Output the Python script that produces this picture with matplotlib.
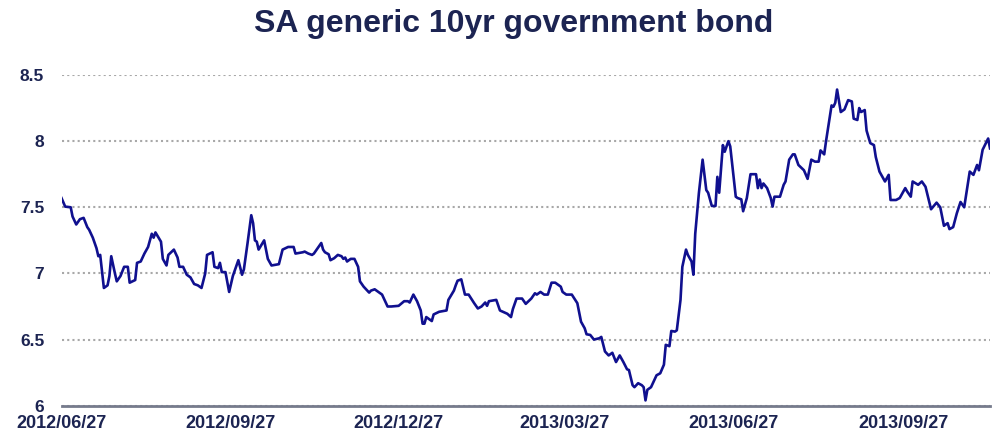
import matplotlib
matplotlib.use("Agg")
import matplotlib.pyplot as plt
import matplotlib.dates as mdates
import pandas as pd

plt.rcParams['font.family'] = ['Liberation Sans', 'DejaVu Sans']

title = "SA generic 10yr government bond"

dates = [
    "2012-06-27", "2012-06-29", "2012-07-02", "2012-07-03", "2012-07-05", "2012-07-07",
    "2012-07-09", "2012-07-11", "2012-07-12", "2012-07-14", "2012-07-16", "2012-07-17",
    "2012-07-18", "2012-07-20", "2012-07-22", "2012-07-23", "2012-07-24", "2012-07-26",
    "2012-07-27", "2012-07-29", "2012-07-31", "2012-08-02", "2012-08-03", "2012-08-06",
    "2012-08-07", "2012-08-09", "2012-08-11", "2012-08-13", "2012-08-15", "2012-08-16",
    "2012-08-17", "2012-08-20", "2012-08-21", "2012-08-23", "2012-08-24", "2012-08-27",
    "2012-08-29", "2012-08-30", "2012-09-01", "2012-09-03", "2012-09-05", "2012-09-07",
    "2012-09-09", "2012-09-11", "2012-09-13", "2012-09-14", "2012-09-17", "2012-09-18",
    "2012-09-20", "2012-09-21", "2012-09-22", "2012-09-24", "2012-09-26", "2012-09-28",
    "2012-10-01", "2012-10-03", "2012-10-04", "2012-10-06", "2012-10-08", "2012-10-09",
    "2012-10-10", "2012-10-11", "2012-10-12", "2012-10-15", "2012-10-17", "2012-10-19",
    "2012-10-23", "2012-10-25", "2012-10-28", "2012-10-31", "2012-11-01", "2012-11-05",
    "2012-11-06", "2012-11-08", "2012-11-10", "2012-11-11", "2012-11-13", "2012-11-15",
    "2012-11-16", "2012-11-17", "2012-11-19", "2012-11-20", "2012-11-22", "2012-11-24",
    "2012-11-26", "2012-11-27", "2012-11-28", "2012-11-29", "2012-12-01", "2012-12-03",
    "2012-12-05", "2012-12-06", "2012-12-08", "2012-12-11", "2012-12-12", "2012-12-14",
    "2012-12-16", "2012-12-18", "2012-12-21", "2012-12-23", "2012-12-27", "2012-12-30",
    "2013-01-01", "2013-01-02", "2013-01-04", "2013-01-06", "2013-01-08", "2013-01-09",
    "2013-01-10", "2013-01-11", "2013-01-14", "2013-01-15", "2013-01-18", "2013-01-22",
    "2013-01-23", "2013-01-26", "2013-01-27", "2013-01-28", "2013-01-30", "2013-02-01",
    "2013-02-03", "2013-02-06", "2013-02-08", "2013-02-10", "2013-02-12", "2013-02-13",
    "2013-02-14", "2013-02-18", "2013-02-20", "2013-02-24", "2013-02-26", "2013-02-27",
    "2013-03-01", "2013-03-04", "2013-03-06", "2013-03-09", "2013-03-11", "2013-03-12",
    "2013-03-14", "2013-03-16", "2013-03-18", "2013-03-20", "2013-03-22", "2013-03-25",
    "2013-03-26", "2013-03-28", "2013-03-31", "2013-04-03", "2013-04-05", "2013-04-07",
    "2013-04-08", "2013-04-10", "2013-04-12", "2013-04-15", "2013-04-16", "2013-04-18",
    "2013-04-20", "2013-04-22", "2013-04-24", "2013-04-26", "2013-04-28", "2013-04-30",
    "2013-05-01", "2013-05-03", "2013-05-04", "2013-05-06", "2013-05-08", "2013-05-09",
    "2013-05-10", "2013-05-11", "2013-05-13", "2013-05-16", "2013-05-18", "2013-05-20",
    "2013-05-21", "2013-05-23", "2013-05-24", "2013-05-26", "2013-05-27", "2013-05-29",
    "2013-05-30", "2013-06-01", "2013-06-02", "2013-06-04", "2013-06-05", "2013-06-06",
    "2013-06-08", "2013-06-10", "2013-06-12", "2013-06-13", "2013-06-15", "2013-06-17",
    "2013-06-18", "2013-06-19", "2013-06-21", "2013-06-22", "2013-06-24", "2013-06-25",
    "2013-06-28", "2013-06-29", "2013-07-01", "2013-07-02", "2013-07-04", "2013-07-06",
    "2013-07-09", "2013-07-10", "2013-07-11", "2013-07-12", "2013-07-13", "2013-07-15",
    "2013-07-17", "2013-07-18", "2013-07-19", "2013-07-22", "2013-07-24", "2013-07-25",
    "2013-07-27", "2013-07-29", "2013-07-30", "2013-08-01", "2013-08-04", "2013-08-06",
    "2013-08-08", "2013-08-10", "2013-08-12", "2013-08-13", "2013-08-15", "2013-08-16",
    "2013-08-19", "2013-08-20", "2013-08-21", "2013-08-22", "2013-08-24", "2013-08-26",
    "2013-08-28", "2013-08-30", "2013-08-31", "2013-09-02", "2013-09-03", "2013-09-04",
    "2013-09-06", "2013-09-07", "2013-09-09", "2013-09-11", "2013-09-12", "2013-09-14",
    "2013-09-17", "2013-09-19", "2013-09-20", "2013-09-23", "2013-09-25", "2013-09-28",
    "2013-09-29", "2013-10-01", "2013-10-02", "2013-10-05", "2013-10-07", "2013-10-09",
    "2013-10-12", "2013-10-15", "2013-10-17", "2013-10-19", "2013-10-21", "2013-10-22",
    "2013-10-24", "2013-10-26", "2013-10-28", "2013-10-30", "2013-11-02", "2013-11-04",
    "2013-11-06", "2013-11-07", "2013-11-09", "2013-11-12", "2013-11-13",
]

yields = [
    7.57, 7.505, 7.50, 7.43, 7.37, 7.41,
    7.42, 7.35, 7.33, 7.27, 7.19, 7.13,
    7.14, 6.89, 6.91, 6.98, 7.13, 7.00,
    6.94, 6.98, 7.05, 7.05, 6.93, 6.95,
    7.08, 7.09, 7.15, 7.20, 7.30, 7.27,
    7.31, 7.24, 7.11, 7.06, 7.14, 7.18,
    7.12, 7.05, 7.05, 6.99, 6.97, 6.92,
    6.91, 6.89, 7.00, 7.14, 7.16, 7.05,
    7.04, 7.08, 7.01, 7.01, 6.86, 6.98,
    7.10, 6.99, 7.03, 7.23, 7.44, 7.38,
    7.25, 7.24, 7.18, 7.25, 7.11, 7.06,
    7.07, 7.18, 7.20, 7.20, 7.15, 7.16,
    7.165, 7.15, 7.14, 7.15, 7.19, 7.23,
    7.18, 7.16, 7.145, 7.10, 7.115, 7.14,
    7.13, 7.11, 7.12, 7.09, 7.11, 7.11,
    7.05, 6.94, 6.90, 6.855, 6.87, 6.88,
    6.86, 6.84, 6.75, 6.75, 6.755, 6.79,
    6.79, 6.78, 6.84, 6.79, 6.72, 6.62,
    6.62, 6.67, 6.64, 6.69, 6.71, 6.72,
    6.80, 6.87, 6.91, 6.945, 6.955, 6.84,
    6.84, 6.775, 6.735, 6.75, 6.78, 6.755,
    6.79, 6.80, 6.72, 6.695, 6.67, 6.73,
    6.81, 6.81, 6.77, 6.81, 6.85, 6.84,
    6.86, 6.84, 6.84, 6.93, 6.93, 6.90,
    6.86, 6.84, 6.84, 6.775, 6.635, 6.585,
    6.54, 6.535, 6.50, 6.51, 6.52, 6.41,
    6.38, 6.40, 6.33, 6.38, 6.33, 6.275,
    6.27, 6.155, 6.14, 6.17, 6.155, 6.14,
    6.04, 6.12, 6.14, 6.23, 6.245, 6.31,
    6.46, 6.45, 6.565, 6.56, 6.57, 6.80,
    7.05, 7.18, 7.14, 7.09, 6.99, 7.30,
    7.61, 7.86, 7.63, 7.61, 7.51, 7.51,
    7.73, 7.61, 7.97, 7.92, 8.00, 7.96,
    7.58, 7.57, 7.56, 7.47, 7.57, 7.75,
    7.75, 7.645, 7.71, 7.645, 7.68, 7.645,
    7.57, 7.505, 7.58, 7.58, 7.67, 7.695,
    7.86, 7.90, 7.90, 7.82, 7.78, 7.715,
    7.86, 7.845, 7.845, 7.93, 7.90, 8.00,
    8.27, 8.26, 8.29, 8.39, 8.22, 8.24,
    8.31, 8.30, 8.17, 8.16, 8.25, 8.22,
    8.235, 8.08, 7.985, 7.97, 7.88, 7.77,
    7.695, 7.745, 7.555, 7.555, 7.57, 7.645,
    7.62, 7.58, 7.695, 7.67, 7.695, 7.655,
    7.485, 7.535, 7.50, 7.36, 7.38, 7.335,
    7.35, 7.455, 7.54, 7.50, 7.77, 7.745,
    7.82, 7.78, 7.935, 8.02, 7.945,
]

tick_dates = ["2012-06-27", "2012-09-27", "2012-12-27", "2013-03-27", "2013-06-27", "2013-09-27"]
y_ticks = [6, 6.5, 7, 7.5, 8, 8.5]
y_tick_labels = ["6", "6.5", "7", "7.5", "8", "8.5"]

navy = "#1c2452"
line_blue = "#10108f"

x = pd.to_datetime(dates)
fig = plt.figure(figsize=(9.92, 4.34), dpi=100)
ax = fig.add_axes([61.5 / 992, 28.3 / 434, (990 - 61.5) / 992, 330.7 / 434])

ax.plot(x, yields, color=line_blue, linewidth=1.9, solid_joinstyle="round")

ax.set_ylim(6, 8.5)
ax.set_xlim(x[0], x[-1])
ax.set_yticks(y_ticks)
ax.set_yticklabels(y_tick_labels)
ax.set_xticks(pd.to_datetime(tick_dates))
ax.xaxis.set_major_formatter(mdates.DateFormatter("%Y/%m/%d"))

for s in ["top", "right", "left"]:
    ax.spines[s].set_visible(False)
ax.spines["bottom"].set_color("#767b8c")
ax.spines["bottom"].set_linewidth(2.0)

ax.grid(axis="y", color="#a8a8a8", linestyle=(0, (1, 1.5)), linewidth=1.5)
ax.grid(axis="x", visible=False)
ax.set_axisbelow(True)

ax.tick_params(axis="both", length=0, labelcolor=navy)
ax.tick_params(axis="y", pad=12.5, labelsize=12.5)
ax.tick_params(axis="x", pad=7, labelsize=13)
for lbl in ax.get_xticklabels() + ax.get_yticklabels():
    lbl.set_fontweight("bold")

fig.text(0.518, 0.945, title, ha="center", va="center", fontsize=23,
         fontweight="bold", color=navy)

fig.savefig("out.png", dpi=100)
